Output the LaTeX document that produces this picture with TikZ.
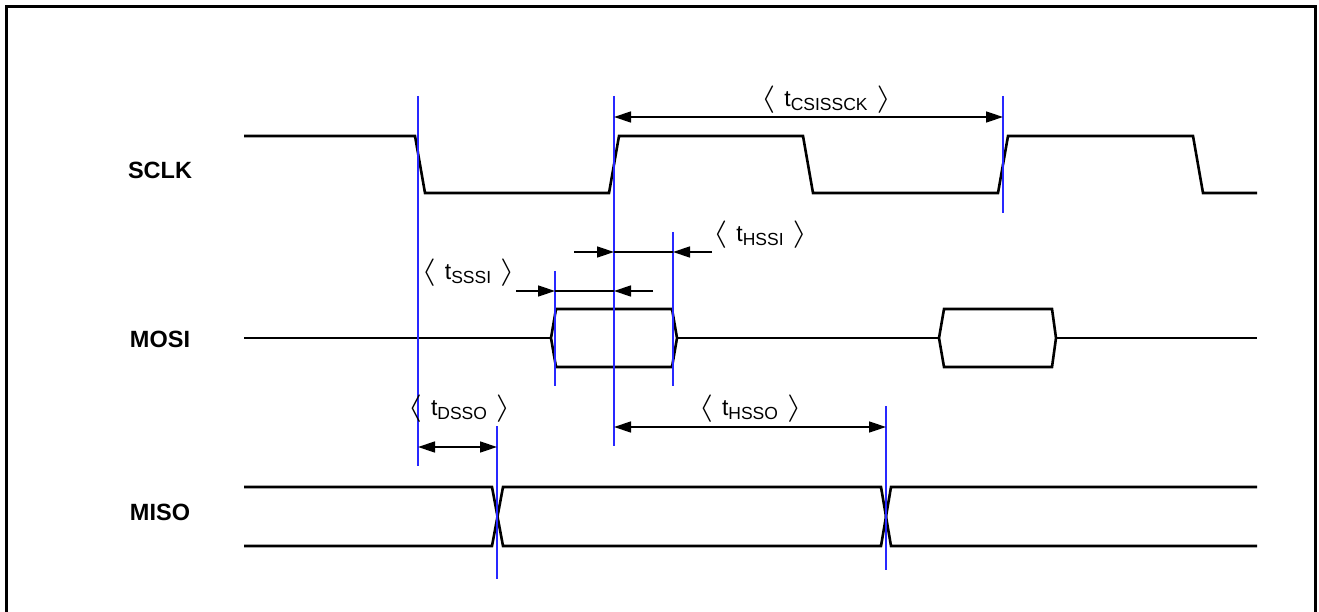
\documentclass[tikz,border=0pt]{standalone}
\usepackage{fontspec}
\setmainfont{Liberation Sans}
\usetikzlibrary{arrows.meta}
\newcommand{\brl}{\scalebox{1.5}[1.1]{$\langle$}}
\newcommand{\brr}{\scalebox{1.5}[1.1]{$\rangle$}}
\newcommand{\tlab}[1]{{\fontsize{23}{26}\selectfont\brl\hspace{9pt}t\raisebox{-4pt}{\fontsize{17.5}{20}\selectfont #1}\hspace{9pt}\brr}}
\tikzset{
  sig/.style={line width=2.6pt, black, line join=miter},
  bline/.style={line width=1.4pt, color={rgb,255:red,40;green,40;blue,255}},
  dim/.style={line width=1.4pt, black},
  tip/.style={-{Triangle[length=17pt,width=11pt]}},
  dtip/.style={{Triangle[length=17pt,width=11pt]}-{Triangle[length=17pt,width=11pt]}},
  siglabel/.style={font=\bfseries\fontsize{23.5}{26}\selectfont, inner sep=0pt},
  tlabel/.style={inner sep=0pt}
}
\begin{document}
\begin{tikzpicture}[x=1pt,y=-1pt]
\useasboundingbox (0,0) rectangle (1319,612);
% frame
\draw[line width=3pt] (6,614) -- (6,7) -- (1315,7) -- (1315,614);
% signal names
\node[siglabel] (sclk) at (160,170) {SCLK};
\node[siglabel] (mosi) at (160,339) {MOSI};
\node[siglabel] (miso) at (160,512) {MISO};
% SCLK
\draw[sig] (244,136) -- (415,136) -- (425,193) -- (609,193) -- (619,136) -- (803,136) -- (813,193)
  -- (998,193) -- (1008,136) -- (1193,136) -- (1203,193) -- (1257,193);
% MOSI
\draw[sig] (244,338) -- (551,338);
\draw[sig] (551,338) -- (556,309) -- (672,309) -- (677,338) -- (672,367) -- (556,367) -- cycle;
\draw[sig] (677,338) -- (939,338);
\draw[sig] (939,338) -- (944,309) -- (1052,309) -- (1056,338) -- (1052,367) -- (944,367) -- cycle;
\draw[sig] (1056,338) -- (1257,338);
% MISO
\draw[sig] (244,487) -- (492,487) -- (503,546) -- (881,546) -- (891,487) -- (1257,487);
\draw[sig] (244,546) -- (492,546) -- (503,487) -- (881,487) -- (891,546) -- (1257,546);
% blue reference lines
\coordinate (b1t) at (418,96);   \coordinate (b1b) at (418,466);
\coordinate (b2t) at (614,96);   \coordinate (b2b) at (614,446);
\coordinate (b3t) at (1003,96);  \coordinate (b3b) at (1003,213);
\coordinate (b4t) at (555,271);  \coordinate (b4b) at (555,386);
\coordinate (b5t) at (673,232);  \coordinate (b5b) at (673,386);
\coordinate (b6t) at (497,426);  \coordinate (b6b) at (497,579);
\coordinate (b7t) at (886,406);  \coordinate (b7b) at (886,570);
\foreach \i in {1,...,7} \draw[bline] (b\i t) -- (b\i b);
% tCSISSCK
\coordinate (c1) at (614,117); \coordinate (c2) at (1003,117);
\draw[dim,dtip] (c1) -- (c2);
\node[tlabel] (lcsi) at (826,100) {\tlab{CSISSCK}};
% tHSSI
\coordinate (h0) at (574,252); \coordinate (h1) at (614,252);
\coordinate (h2) at (673,252); \coordinate (h3) at (712,252);
\draw[dim,tip] (h0) -- (h1);
\draw[dim] (h1) -- (h2);
\draw[dim,tip] (h3) -- (h2);
\node[tlabel] (lhssi) at (760,235) {\tlab{HSSI}};
% tSSSI
\coordinate (s0) at (516,291); \coordinate (s1) at (555,291);
\coordinate (s2) at (614,291); \coordinate (s3) at (653,291);
\draw[dim,tip] (s0) -- (s1);
\draw[dim] (s1) -- (s2);
\draw[dim,tip] (s3) -- (s2);
\node[tlabel] (lsssi) at (468,273) {\tlab{SSSI}};
% tDSSO
\coordinate (d1) at (418,447); \coordinate (d2) at (497,447);
\draw[dim,dtip] (d1) -- (d2);
\node[tlabel] (ldsso) at (459,409) {\tlab{DSSO}};
% tHSSO
\coordinate (o1) at (614,427); \coordinate (o2) at (886,427);
\draw[dim,dtip] (o1) -- (o2);
\node[tlabel] (lhsso) at (750,409) {\tlab{HSSO}};
\end{tikzpicture}
\end{document}
